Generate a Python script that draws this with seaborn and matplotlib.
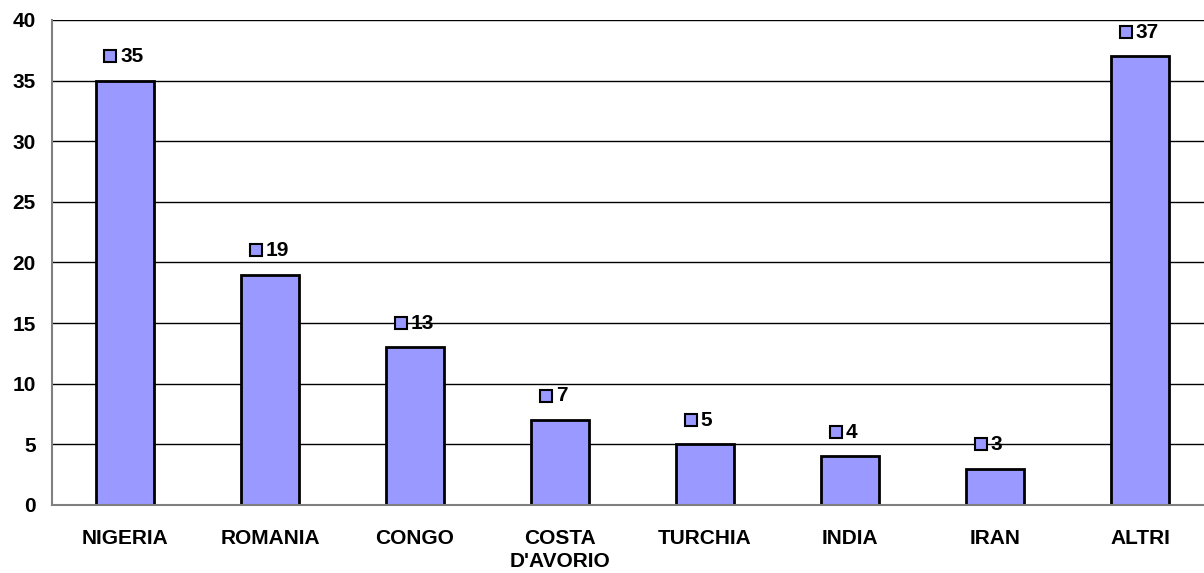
import matplotlib
matplotlib.use("Agg")
import matplotlib.pyplot as plt
import seaborn as sns
import numpy as np

# data
paesi = ["NIGERIA", "ROMANIA", "CONGO", "COSTA\nD'AVORIO", "TURCHIA", "INDIA", "IRAN", "ALTRI"]
valori = [35, 19, 13, 7, 5, 4, 3, 37]

sns.set_style("white")
plt.rcParams["font.family"] = ["Liberation Sans", "DejaVu Sans"]
plt.rcParams["text.color"] = "black"
plt.rcParams["xtick.labelcolor"] = "black"
plt.rcParams["ytick.labelcolor"] = "black"

fig = plt.figure(figsize=(12.04, 5.73), dpi=100)
ax = fig.add_axes([0.0436, 0.1187, 0.9635, 0.8464])

sns.barplot(x=paesi, y=valori, color="#9999FF", saturation=1, width=0.4,
            edgecolor="black", linewidth=2, ax=ax, zorder=3)

ax.set_ylim(0, 40)
ax.set_xlim(-0.5, len(paesi) - 0.5)
ax.set_yticks(range(0, 41, 5))
ax.yaxis.grid(True, color="black", linewidth=1)
ax.set_axisbelow(True)

for s in ["top", "right"]:
    ax.spines[s].set_visible(False)
for s in ["left", "bottom"]:
    ax.spines[s].set_color("#808080")
    ax.spines[s].set_linewidth(1.5)
    ax.spines[s].set_zorder(4)

ax.tick_params(axis="y", length=5, color="black", width=1, labelsize=15, pad=7,
               labelcolor="black")
ax.tick_params(axis="x", which="major", length=0, labelsize=15, pad=17,
               labelcolor="black")
ax.set_xticks(np.arange(len(paesi)) + 0.5, minor=True)
ax.tick_params(axis="x", which="minor", length=6, color="#808080", width=1.5)
for lab in ax.get_xticklabels() + ax.get_yticklabels():
    lab.set_fontweight("bold")
    lab.set_linespacing(1.3)

# value labels with legend key square
for i, v in enumerate(valori):
    ax.plot(i - 0.1, v + 2, marker="s", markersize=8, markerfacecolor="#9999FF",
            markeredgecolor="black", markeredgewidth=1.5, zorder=5, clip_on=False)
    ax.text(i - 0.03, v + 2, str(v), ha="left", va="center", fontsize=15,
            fontweight="bold", color="black", zorder=5)

ax.set_xlabel("")
ax.set_ylabel("")

fig.savefig("out.png", dpi=100)
